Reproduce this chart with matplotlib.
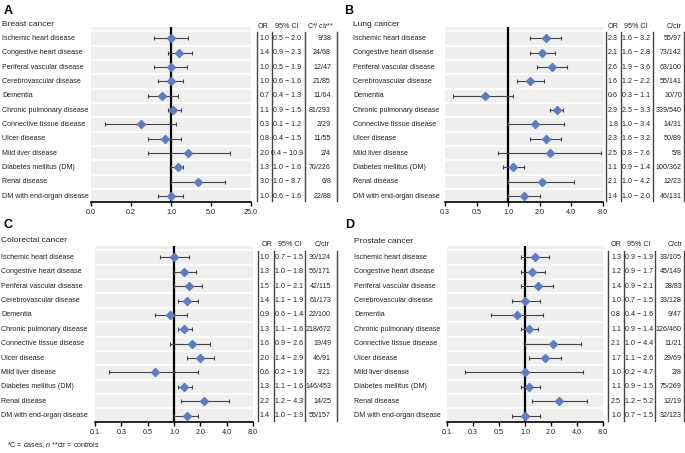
import numpy as np
import matplotlib
matplotlib.use("Agg")
import matplotlib.pyplot as plt
from matplotlib.transforms import blended_transform_factory

plt.rcParams['font.family'] = ['Liberation Sans', 'DejaVu Sans']
plt.rcParams['mathtext.fontset'] = 'custom'
plt.rcParams['mathtext.rm'] = 'Liberation Sans'
plt.rcParams['mathtext.it'] = 'Liberation Sans:italic'

categories = ["Ischemic heart disease", "Congestive heart disease", "Periferal vascular disease",
              "Cerebrovascular disease", "Dementia", "Chronic pulmonary disease",
              "Connective tissue disease", "Ulcer disease", "Mild liver disease",
              "Diabetes mellitus (DM)", "Renal disease", "DM with end-organ disease"]

# breast cancer
breast_or = [1.0, 1.4, 1.0, 1.0, 0.7, 1.1, 0.3, 0.8, 2.0, 1.3, 3.0, 1.0]
breast_lo = [0.5, 0.9, 0.5, 0.6, 0.4, 0.9, 0.07, 0.4, 0.4, 1.0, 1.0, 0.6]
breast_hi = [2.0, 2.3, 1.9, 1.6, 1.3, 1.5, 1.2, 1.5, 10.9, 1.6, 8.7, 1.6]
breast_n = ["9/38", "24/68", "12/47", "21/85", "11/64", "81/293", "2/29", "11/55",
            "2/4", "70/226", "6/8", "22/88"]

# lung cancer
lung_or = [2.3, 2.1, 2.6, 1.6, 0.6, 2.9, 1.8, 2.3, 2.5, 1.1, 2.1, 1.4]
lung_lo = [1.6, 1.6, 1.9, 1.2, 0.3, 2.5, 1.0, 1.6, 0.8, 0.9, 1.0, 1.0]
lung_hi = [3.2, 2.8, 3.6, 2.2, 1.1, 3.3, 3.4, 3.2, 7.6, 1.4, 4.2, 2.0]
lung_n = ["55/97", "73/142", "63/100", "55/141", "10/70", "339/540", "14/31", "50/89",
          "5/8", "100/362", "12/23", "46/131"]

# colorectal cancer
colo_or = [1.0, 1.3, 1.5, 1.4, 0.9, 1.3, 1.6, 2.0, 0.6, 1.3, 2.2, 1.4]
colo_lo = [0.7, 1.0, 1.0, 1.1, 0.6, 1.1, 0.9, 1.4, 0.18, 1.1, 1.2, 1.0]
colo_hi = [1.5, 1.8, 2.1, 1.9, 1.4, 1.6, 2.6, 2.9, 1.9, 1.6, 4.3, 1.9]
colo_n = ["30/124", "56/171", "42/115", "61/173", "22/100", "218/672", "19/49", "46/91",
          "3/21", "146/453", "14/25", "55/157"]

# prostate cancer
prost_or = [1.3, 1.2, 1.4, 1.0, 0.8, 1.1, 2.1, 1.7, 1.0, 1.1, 2.5, 1.0]
prost_lo = [0.9, 0.9, 0.9, 0.7, 0.4, 0.9, 1.0, 1.1, 0.2, 0.9, 1.2, 0.7]
prost_hi = [1.9, 1.7, 2.1, 1.5, 1.6, 1.4, 4.4, 2.6, 4.7, 1.5, 5.2, 1.5]
prost_n = ["33/105", "45/149", "28/83", "33/128", "9/47", "126/460", "11/21", "29/69",
           "2/8", "75/269", "12/19", "32/123"]

ticks_a = [0.04, 0.2, 1.0, 5.0, 25.0]
labels_a = ["0.0", "0.2", "1.0", "5.0", "25.0"]
ticks_b = [0.25, 0.5, 1.0, 2.0, 4.0, 8.0]
labels_b = ["0.3", "0.5", "1.0", "2.0", "4.0", "8.0"]
ticks_cd = [0.125, 0.25, 0.5, 1.0, 2.0, 4.0, 8.0]
labels_cd = ["0.1", "0.3", "0.5", "1.0", "2.0", "4.0", "8.0"]

W, H = 685, 453
fig = plt.figure(figsize=(W / 100, H / 100), dpi=100)

txt = '#222222'
diam = '#5b7fc0'
bar = '#444444'

# (letter, title, or, lo, hi, n, ticks, tick labels, base, plot x0, x1, y top, y bottom,
#  label x, title y, table lines, or right, ci center, n right, header y, n header, header xs)
panels = [
    ("A", "Breast cancer", breast_or, breast_lo, breast_hi, breast_n, ticks_a, labels_a, 5,
     91, 251, 27, 202.5, 2, 24, [257, 272, 305, 337], 270, 287, 331, 26,
     r"C*/ $\it{ctr}$**", [263, 287, 321]),
    ("B", "Lung cancer", lung_or, lung_lo, lung_hi, lung_n, ticks_b, labels_b, 2,
     445, 603, 27, 202.5, 353, 24, [606, 621, 653, 684], 618, 636, 682, 26,
     r"C/ctr", [613, 636, 674]),
    ("C", "Colorectal cancer", colo_or, colo_lo, colo_hi, colo_n, ticks_cd, labels_cd, 2,
     95, 253, 246, 422, 1, 240, [258, 274, 305, 337], 270, 289, 331, 244,
     r"C/ctr", [267, 290, 322]),
    ("D", "Prostate cancer", prost_or, prost_lo, prost_hi, prost_n, ticks_cd, labels_cd, 2,
     447, 603, 246, 422, 354, 242, [608, 624, 655, 684], 621, 639, 682, 244,
     r"C/ctr", [616, 639, 675]),
]

for (letter, title, odds, lo, hi, nn, ticks, tlabels, base, x0, x1, yt, yb, lx, ty,
     lines, or_x, ci_x, n_x, hy, nhead, hx) in panels:
    ax = fig.add_axes([x0 / W, 1 - yb / H, (x1 - x0) / W, (yb - yt) / H])
    ax.set_facecolor('#efefef')
    ax.set_xscale('log', base=base)
    ax.set_xlim(ticks[0], ticks[-1])
    ax.set_ylim(11.45, -0.8)
    y = np.arange(len(categories))
    for i in range(len(categories)):
        ax.axhline(i - 0.5, color='white', lw=1.2, zorder=1)
    ax.axvline(1.0, color='black', lw=1.6, zorder=2)
    odds = np.array(odds)
    err = [odds - np.array(lo), np.array(hi) - odds]
    ax.errorbar(odds, y, xerr=err, fmt='none', ecolor=bar, elinewidth=0.8,
                capsize=1.6, capthick=0.8, zorder=3)
    ax.plot(odds, y, 'D', color=diam, ms=4.5, mec=diam, zorder=4)
    for s in ['top', 'right', 'left']:
        ax.spines[s].set_visible(False)
    ax.spines['bottom'].set_linewidth(1.2)
    ax.set_yticks([])
    ax.xaxis.set_minor_locator(matplotlib.ticker.NullLocator())
    ax.set_xticks(ticks)
    ax.set_xticklabels(tlabels)
    ax.tick_params(axis='x', length=3, width=1, labelsize=5.2, pad=2, colors=txt)
    ax.tick_params(axis='x', color='black')

    tr = blended_transform_factory(fig.transFigure, ax.transData)
    for i, c in enumerate(categories):
        fig.text(lx / W, i, c, transform=tr, fontsize=5.1, color=txt, va='center', ha='left')
        fig.text(or_x / W, i, f"{odds[i]:.1f}", transform=tr, fontsize=5.1, color=txt,
                 va='center', ha='right')
        fig.text(ci_x / W, i, f"{lo[i]:.1f} \u2212 {hi[i]:.1f}", transform=tr, fontsize=5.1,
                 color=txt, va='center', ha='center')
        fig.text(n_x / W, i, nn[i], transform=tr, fontsize=5.1, color=txt,
                 va='center', ha='right')
    for lxp in lines:
        fig.add_artist(plt.Line2D([lxp / W, lxp / W], [-0.45, 11.35], transform=tr,
                                  color='#444444', lw=1.0))
    fig.text(hx[0] / W, 1 - hy / H, "OR", fontsize=5.1, color=txt, ha='center', va='center')
    fig.text(hx[1] / W, 1 - hy / H, "95% CI", fontsize=5.1, color=txt, ha='center', va='center')
    fig.text(hx[2] / W, 1 - hy / H, nhead, fontsize=5.1, color=txt, ha='center', va='center')

    fig.text(lx / W, 1 - ty / H, title, fontsize=6, color=txt, ha='left', va='center')
    fig.text((lx + 2) / W if lx < 10 else (lx - 9) / W, 1 - (yt - 16 if letter in "AB" else yt - 21) / H,
             letter, fontsize=9, fontweight='bold', color='black', ha='left', va='center')

fig.text(7 / W, 1 - 445 / H, r"*C = cases, $\it{n}$ **ctr = controls", fontsize=5.1,
         color=txt, ha='left', va='center')

fig.savefig("out.png", dpi=100)
